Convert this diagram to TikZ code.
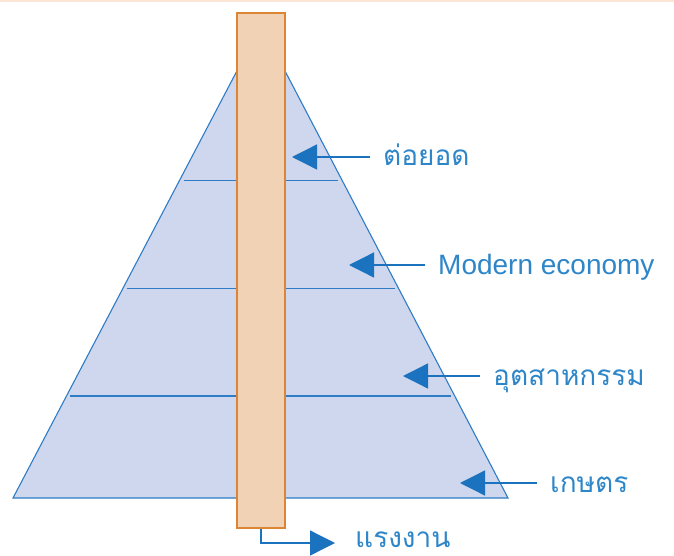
\documentclass[tikz,border=0pt]{standalone}
\usepackage{fontspec}
\setmainfont{Liberation Sans}
\newfontfamily\thaifont[Script=Thai]{Loma}
\usetikzlibrary{positioning,arrows.meta,calc}
\definecolor{pyrblue}{RGB}{46,124,198}
\definecolor{pyrfill}{RGB}{206,215,238}
\definecolor{arrblue}{RGB}{27,114,190}
\definecolor{txtblue}{RGB}{46,134,200}
\definecolor{barfill}{RGB}{242,210,180}
\definecolor{barline}{RGB}{219,133,53}
\definecolor{topline}{RGB}{251,229,214}

\begin{document}
\begin{tikzpicture}[
    x=1pt, y=-1pt,
    level/.style={draw=pyrblue, line width=1.1pt, shorten <=4pt, shorten >=4pt},
    bar/.style={draw=barline, fill=barfill, line width=1.2pt, minimum width=48pt, minimum height=515pt, inner sep=0pt},
    lbl/.style={anchor=west, text=txtblue, font=\fontsize{28}{30}\selectfont, text height=18pt, text depth=0pt, inner ysep=0pt, inner xsep=13pt},
    arrow/.style={-{Triangle[length=25pt,width=25pt]}, draw=arrblue, line width=1.3pt}
]
    \useasboundingbox (0,0) rectangle (674,556);
    \draw[topline, line width=1.5pt] (0,1) -- (674,1);

    % pyramid
    \coordinate (L) at (13,498);
    \coordinate (R) at (508,498);
    \coordinate (T) at (261,25);
    \draw[pyrblue, fill=pyrfill, line width=1.1pt] (L) -- (T) -- (R) -- cycle;
    \foreach \t in {0.672,0.442,0.2156}
        \draw[level] ($(L)!\t!(T)$) -- ($(R)!\t!(T)$);

    \node[bar] (labour) at (261,270.5) {};

    % labels
    \node[lbl] (top) at (370,157) {\thaifont ต่อยอด};
    \node[lbl] (modern) at (425,265) {Modern economy};
    \node[lbl] (ind) at (480,376) {\thaifont อุตสาหกรรม};
    \node[lbl] (agr) at (537,483) {\thaifont เกษตร};
    \node[lbl, inner xsep=20pt, text height=8pt] (work) at (335,543) {\thaifont แรงงาน};

    \coordinate (t1) at (292,157);
    \coordinate (t2) at (349,265);
    \coordinate (t3) at (403,376);
    \coordinate (t4) at (460,483);

    \draw[arrow] (top.west) -- (t1);
    \draw[arrow] (modern.west) -- (t2);
    \draw[arrow] (ind.west) -- (t3);
    \draw[arrow] (agr.west) -- (t4);
    \draw[arrow] (labour.south) |- (work.west);
\end{tikzpicture}
\end{document}
